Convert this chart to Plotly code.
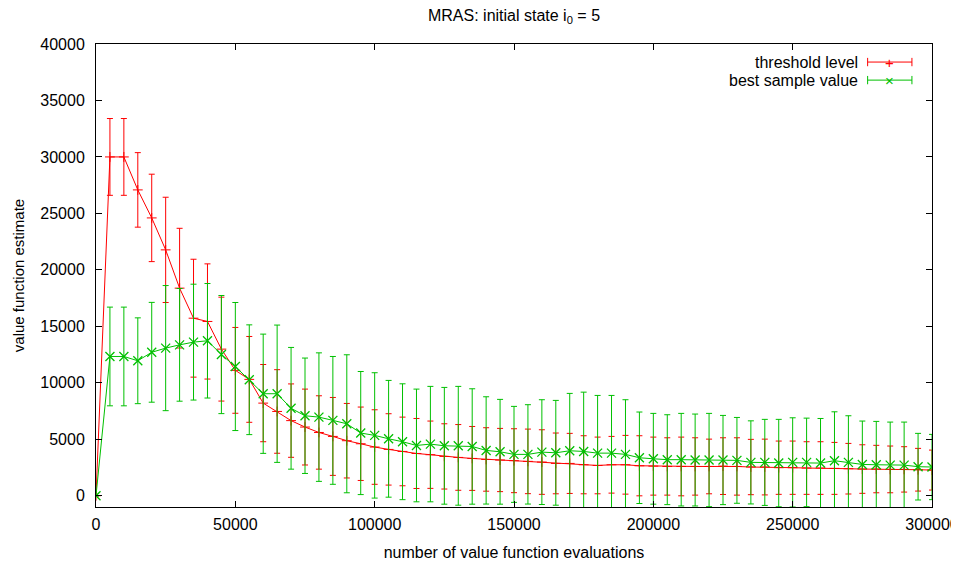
import plotly.graph_objects as go

evals = list(range(0, 300001, 5000))

threshold_level = [
    0, 30000, 30000, 27080, 24600, 21770, 18380, 15720, 15430, 12980,
    11100, 10300, 8200, 7460, 6650, 6080, 5600, 5250, 4870, 4600,
    4310, 4100, 3920, 3740, 3630, 3480, 3390, 3300, 3210, 3160,
    3100, 3040, 2980, 2860, 2860, 2740, 2680, 2740, 2740, 2650,
    2620, 2590, 2590, 2590, 2590, 2620, 2590, 2540, 2540, 2480,
    2480, 2450, 2450, 2420, 2390, 2360, 2360, 2330, 2330, 2300, 2270]
threshold_err = [
    0, 3400, 3400, 3300, 3870, 4660, 5300, 5220, 5100, 4600,
    3800, 3800, 3420, 3700, 3250, 3360, 3250, 3450, 3300, 3250,
    3300, 3160, 3040, 3100, 2980, 2890, 2910, 2830, 2810, 2800,
    2830, 2860, 2860, 2690, 2660, 2570, 2510, 2510, 2600, 2660,
    2570, 2540, 2600, 2540, 2420, 2510, 2540, 2450, 2470, 2360,
    2360, 2330, 2330, 2300, 2240, 2150, 2100, 2070, 2010, 1890, 1770]

best_sample = [
    0, 12330, 12330, 11950, 12700, 13070, 13360, 13600, 13720, 12500,
    11440, 10270, 9030, 9030, 7740, 7080, 6960, 6670, 6370, 5550,
    5340, 5040, 4780, 4450, 4570, 4420, 4420, 4360, 4010, 3890,
    3660, 3660, 3860, 3800, 3980, 3920, 3770, 3770, 3660, 3360,
    3270, 3190, 3190, 3160, 3160, 3160, 3130, 2950, 2950, 2890,
    2950, 2950, 2890, 3100, 2950, 2770, 2740, 2710, 2710, 2570, 2540]
best_err = [
    0, 4370, 4370, 3800, 4420, 5540, 4990, 5130, 5070, 5230,
    5670, 4860, 5280, 6080, 5390, 5110, 5690, 5660, 6110, 5450,
    5550, 5170, 5130, 4990, 5110, 5170, 5260, 5110, 4750, 4640,
    4250, 4400, 4640, 4640, 5080, 5250, 5110, 5110, 4840, 4050,
    4020, 3980, 4100, 4070, 4130, 3950, 3800, 3680, 3810, 3870,
    3950, 3920, 3950, 4330, 4130, 3840, 3840, 3810, 3810, 2950, 2890]

x_ticks = [0, 50000, 100000, 150000, 200000, 250000, 300000]
y_ticks = [0, 5000, 10000, 15000, 20000, 25000, 30000, 35000, 40000]

RED = "#ff0000"
GREEN = "#00c000"
FONT = "Liberation Sans, Arial, sans-serif"
FS = 16

fig = go.Figure()
fig.add_trace(go.Scatter(
    x=evals, y=threshold_level, mode="lines+markers", name="threshold level",
    line=dict(color=RED, width=1),
    marker=dict(symbol="cross-thin", size=7, line=dict(color=RED, width=1)),
    error_y=dict(type="data", array=threshold_err, color=RED, thickness=1, width=3),
))
fig.add_trace(go.Scatter(
    x=evals, y=best_sample, mode="lines+markers", name="best sample value",
    line=dict(color=GREEN, width=1),
    marker=dict(symbol="x-thin", size=9, line=dict(color=GREEN, width=1.3)),
    error_y=dict(type="data", array=best_err, color=GREEN, thickness=1, width=3),
))

# gnuplot-style legend (text right-aligned, sample on the right)
legend_items = [("threshold level", RED, 0.961), ("best sample value", GREEN, 0.922)]
for label, col, yy in legend_items:
    fig.add_annotation(xref="paper", yref="paper", x=0.914, y=yy, text=label,
                       showarrow=False, xanchor="right", yanchor="middle",
                       font=dict(family=FONT, size=FS, color="#000000"))
    fig.add_shape(type="line", xref="paper", yref="paper", x0=0.923, x1=0.976,
                  y0=yy, y1=yy, line=dict(color=col, width=1))
    for xe in (0.923, 0.976):
        fig.add_shape(type="line", xref="paper", yref="paper", x0=xe, x1=xe,
                      y0=yy - 0.009, y1=yy + 0.009, line=dict(color=col, width=1))
    fig.add_annotation(xref="paper", yref="paper", x=0.9495, y=yy,
                       text="+" if col == RED else "×", showarrow=False,
                       xanchor="center", yanchor="middle",
                       font=dict(family=FONT, size=15, color=col))

axis_common = dict(
    showgrid=False, zeroline=False, showline=True, linecolor="#000000",
    linewidth=1, mirror="ticks", ticks="inside", ticklen=6, tickcolor="#000000",
    tickfont=dict(family=FONT, size=FS, color="#000000"), automargin=False,
)
fig.update_xaxes(range=[0, 300000], tickvals=x_ticks,
                 ticktext=[str(v) for v in x_ticks], ticklabelstandoff=3,
                 title=dict(text="number of value function evaluations",
                            font=dict(family=FONT, size=FS, color="#000000"), standoff=14),
                 **axis_common)
fig.update_yaxes(range=[-1000, 40000], tickvals=y_ticks,
                 ticktext=[str(v) for v in y_ticks], ticklabelstandoff=7,
                 title=dict(text="value function estimate",
                            font=dict(family=FONT, size=15, color="#000000"), standoff=12),
                 **axis_common)

# page body adds an 8px offset, so margins are shifted to keep the plot box in place
fig.update_layout(
    width=959, height=564,
    margin=dict(l=88, r=35, t=36, b=65, autoexpand=False),
    paper_bgcolor="#ffffff", plot_bgcolor="#ffffff",
    showlegend=False,
    title=dict(text="MRAS: initial state i<sub>0</sub> = 5", x=(88 + 924) / 2 / 959,
               xanchor="center", y=1 - 7 / 564, yref="container", yanchor="middle",
               font=dict(family=FONT, size=16, color="#000000")),
    font=dict(family=FONT, size=FS, color="#000000"),
)

fig.write_html("out.html")
